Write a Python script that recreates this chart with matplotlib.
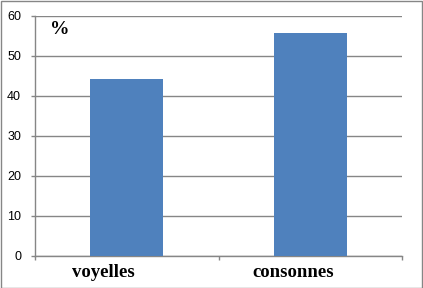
import matplotlib
matplotlib.use("Agg")
import matplotlib.pyplot as plt
import matplotlib.transforms as mtransforms
from matplotlib.patches import Rectangle

categories = ["voyelles", "consonnes"]
values = [44.2, 55.6]
yticks = [0, 10, 20, 30, 40, 50, 60]

W, H = 423, 288
fig = plt.figure(figsize=(W / 100, H / 100), dpi=100)
ax = fig.add_axes([35 / W, (H - 256) / H, (402 - 35) / W, (256 - 15.5) / H])

x = list(range(len(categories)))
ax.bar(x, values, width=0.4, color="#4F81BD", zorder=3)
ax.set_xlim(-0.5, len(categories) - 0.5)
ax.set_ylim(0, 60)
ax.set_yticks(yticks)
ax.set_yticklabels([str(t) for t in yticks], fontfamily="Liberation Sans", fontsize=9)
ax.yaxis.grid(True, color="#868686", linewidth=1)
ax.set_axisbelow(True)

ax.set_xticks([-0.5, 0.5, 1.5])
ax.set_xticklabels([])
ax.tick_params(axis="x", length=3, width=1, color="#868686", direction="out")
ax.tick_params(axis="y", length=3, width=1, color="#868686", direction="out", pad=7)
for s in ["top", "right"]:
    ax.spines[s].set_visible(False)
for s in ["left", "bottom"]:
    ax.spines[s].set_color("#868686")
    ax.spines[s].set_linewidth(1)

label_shift_px = [-23, -17]
for xi, cat, sh in zip(x, categories, label_shift_px):
    offset = mtransforms.ScaledTranslation(sh / 100, 0, fig.dpi_scale_trans)
    trans = mtransforms.blended_transform_factory(ax.transData, ax.transAxes) + offset
    ax.text(xi, -0.035, cat, transform=trans, ha="center", va="top",
            fontfamily="Liberation Serif", fontweight="bold", fontsize=13.5)

ax.text(50 / W, (H - 29) / H, "%", transform=fig.transFigure, ha="left", va="center",
        fontfamily="Liberation Serif", fontweight="bold", fontsize=14)

fig.patches.append(Rectangle((0.5 / W, 0.5 / H), 1 - 1.5 / W, 1 - 1.5 / H,
                             transform=fig.transFigure, fill=False,
                             edgecolor="#868686", linewidth=1))

fig.savefig("out.png", dpi=100)
